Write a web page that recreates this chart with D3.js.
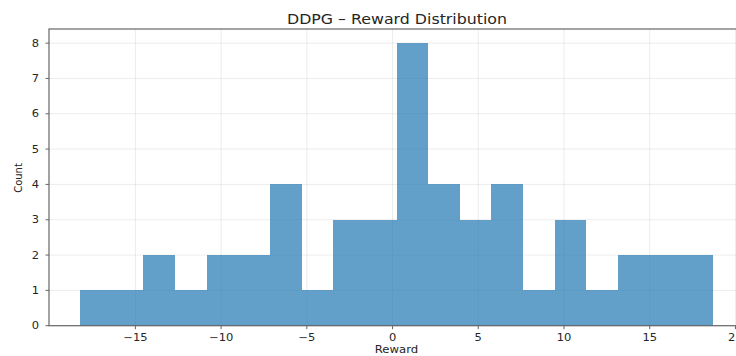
<!DOCTYPE html>
<html>
<head>
<meta charset="utf-8">
<script src="https://cdn.jsdelivr.net/npm/d3@7"></script>
<style>
  html, body { margin: 0; padding: 0; background: #fff; }
  svg { display: block; }
  text { font-family: "DejaVu Sans", sans-serif; fill: #262626; }
</style>
</head>
<body>
<svg id="chart" width="736" height="356"></svg>
<script>
// Histogram bin edges (reward) and counts per bin
const binEdges = [-18.23, -16.38, -14.54, -12.69, -10.85, -9.00, -7.16, -5.31, -3.47, -1.62,
                  0.23, 2.07, 3.92, 5.76, 7.61, 9.45, 11.30, 13.14, 14.99, 16.83, 18.68];
const counts = [1, 1, 2, 1, 2, 2, 4, 1, 3, 3, 8, 4, 3, 4, 1, 3, 1, 2, 2, 2];

const xTicks = [-15, -10, -5, 0, 5, 10, 15, 20];
const xTickLabels = ["−15", "−10", "−5", "0", "5", "10", "15", "20"];
const yTicks = [0, 1, 2, 3, 4, 5, 6, 7, 8];
const yTickLabels = ["0", "1", "2", "3", "4", "5", "6", "7", "8"];

const titleText = "DDPG – Reward Distribution";
const xLabelText = "Reward";
const yLabelText = "Count";

const svg = d3.select("#chart");
const plot = { left: 49, right: 744, top: 29, bottom: 325.7 };
const sx = 1.15; // horizontal text stretch

const x = d3.scaleLinear().domain([-20.04, 20.5]).range([plot.left, plot.right]);
const y = d3.scaleLinear().domain([0, 8.4]).range([plot.bottom, plot.top]);

// grid
const grid = svg.append("g").attr("stroke", "#b0b0b0").attr("stroke-opacity", 0.3).attr("stroke-width", 0.8);
grid.selectAll("line.vx").data(xTicks).join("line")
  .attr("x1", d => x(d)).attr("x2", d => x(d))
  .attr("y1", plot.top).attr("y2", plot.bottom);
grid.selectAll("line.hy").data(yTicks).join("line")
  .attr("x1", plot.left).attr("x2", plot.right)
  .attr("y1", d => y(d)).attr("y2", d => y(d));

// bars
const bins = counts.map((c, i) => ({ x0: binEdges[i], x1: binEdges[i + 1], count: c }));
svg.append("g").attr("shape-rendering", "crispEdges")
  .selectAll("rect").data(bins).join("rect")
  .attr("x", d => x(d.x0))
  .attr("width", d => x(d.x1) - x(d.x0))
  .attr("y", d => y(d.count))
  .attr("height", d => y(0) - y(d.count))
  .attr("fill", "#1f77b4")
  .attr("fill-opacity", 0.7);

// spines
svg.append("rect")
  .attr("x", plot.left).attr("y", plot.top)
  .attr("width", plot.right - plot.left).attr("height", plot.bottom - plot.top)
  .attr("fill", "none").attr("stroke", "#666").attr("stroke-width", 1.2);

// x axis ticks and labels
const xt = svg.append("g");
xt.selectAll("line").data(xTicks).join("line")
  .attr("x1", d => x(d)).attr("x2", d => x(d))
  .attr("y1", plot.bottom).attr("y2", plot.bottom + 3.5)
  .attr("stroke", "#666").attr("stroke-width", 1);
xt.selectAll("text").data(xTicks).join("text")
  .attr("transform", d => `translate(${x(d)},340.5) scale(${sx},1)`)
  .attr("text-anchor", "middle")
  .attr("font-size", 10)
  .text((d, i) => xTickLabels[i]);

// y axis ticks and labels
const yt = svg.append("g");
yt.selectAll("line").data(yTicks).join("line")
  .attr("x1", plot.left - 3.5).attr("x2", plot.left)
  .attr("y1", d => y(d)).attr("y2", d => y(d))
  .attr("stroke", "#666").attr("stroke-width", 1);
yt.selectAll("text").data(yTicks).join("text")
  .attr("transform", d => `translate(39,${y(d) + 3.6}) scale(${sx},1)`)
  .attr("text-anchor", "end")
  .attr("font-size", 10)
  .text((d, i) => yTickLabels[i]);

// title and axis labels
svg.append("text")
  .attr("transform", `translate(397,24) scale(1.17,1)`)
  .attr("text-anchor", "middle")
  .attr("font-size", 13.5)
  .text(titleText);

svg.append("text")
  .attr("transform", `translate(396.5,353) scale(1.17,1)`)
  .attr("text-anchor", "middle")
  .attr("font-size", 10)
  .text(xLabelText);

svg.append("text")
  .attr("transform", `translate(22,178) rotate(-90)`)
  .attr("text-anchor", "middle")
  .attr("font-size", 10)
  .text(yLabelText);
</script>
</body>
</html>
